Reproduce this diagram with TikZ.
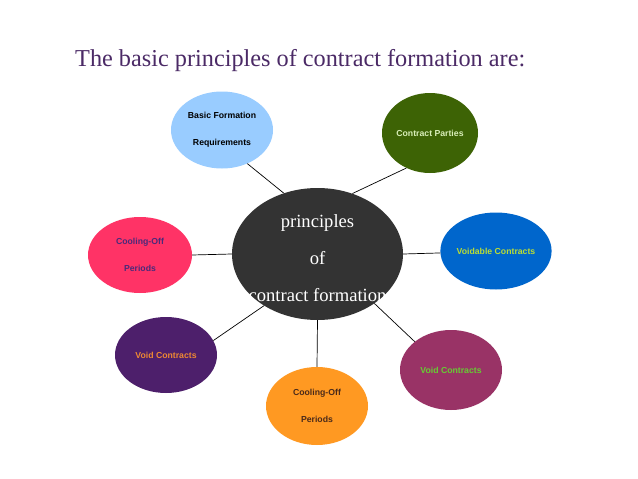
\documentclass[tikz,border=0pt]{standalone}
\usepackage{fontspec}
\setmainfont{Liberation Serif}
\setsansfont{Liberation Sans}
\usetikzlibrary{shapes.geometric}
\definecolor{titlecol}{HTML}{4B2A66}
\definecolor{centrecol}{HTML}{333333}
\definecolor{lightblue}{HTML}{99CCFF}
\definecolor{darkgreen}{HTML}{3D6305}
\definecolor{paleg}{HTML}{D8EEB8}
\definecolor{midblue}{HTML}{0066CC}
\definecolor{yellowg}{HTML}{BBDD33}
\definecolor{pinkred}{HTML}{FF3366}
\definecolor{dpurple}{HTML}{4A2A7A}
\definecolor{violet}{HTML}{4D1F6B}
\definecolor{orangetxt}{HTML}{EE8833}
\definecolor{magenta2}{HTML}{993366}
\definecolor{greentxt}{HTML}{66CC33}
\definecolor{orangefill}{HTML}{FF9922}
\definecolor{browntxt}{HTML}{4A2A1A}
\tikzset{
  bubble/.style={ellipse, inner sep=0pt, minimum width=102pt, minimum height=77pt,
    font=\sffamily\bfseries\fontsize{8.7}{10}\selectfont, align=center},
  link/.style={draw=black, line width=0.7pt}
}
\begin{document}
\begin{tikzpicture}[x=1pt,y=-1pt]
\useasboundingbox[fill=white] (0,0) rectangle (638,479);
\node[anchor=base west, inner sep=0pt, text=titlecol, font=\fontsize{26}{30}\selectfont] (title) at (75,66)
  {\resizebox{450pt}{!}{The basic principles of contract formation are:}};
\node[ellipse, fill=centrecol, minimum width=171pt, minimum height=132pt, inner sep=0pt,
  text=white, align=center, font=\fontsize{18.6}{37}\selectfont] (c) at (317.5,254) {};
\node[text=white, align=center, font=\fontsize{18.6}{37}\selectfont, inner sep=0pt] (ct) at (317.5,258)
  {principles\\of\\contract formation};
\node[bubble, fill=lightblue, text=black] (bf) at (222,130)
  {Basic Formation\\[17pt]Requirements};
\node[bubble, fill=darkgreen, text=paleg, minimum width=96pt, minimum height=80pt] (cp) at (430,133)
  {Contract Parties};
\node[bubble, fill=midblue, text=yellowg] (vc) at (496,251)
  {Voidable Contracts};
\node[bubble, fill=pinkred, text=dpurple, minimum width=104pt, minimum height=76pt] (cl) at (140,255)
  {Cooling-Off\\[17pt]Periods};
\node[bubble, fill=violet, text=orangetxt, minimum height=76pt] (vp) at (166,355)
  {Void Contracts};
\node[bubble, fill=magenta2, text=greentxt, minimum height=80pt] (vm) at (451,370)
  {Void Contracts};
\node[bubble, fill=orangefill, text=browntxt, minimum height=78pt] (co) at (317,406)
  {Cooling-Off\\[17pt]Periods};
\draw[link] (c.119.5) -- (bf.-53);
\draw[link] (c.60.5) -- (cp.-124);
\draw[link] (c.0) -- (vc.182);
\draw[link] (cl.east) -- (c.180);
\draw[link] (c.224) -- (vp.17);
\draw[link] (c.-41) -- (vm.142);
\draw[link] (c.south) -- (co.north);
\end{tikzpicture}
\end{document}
